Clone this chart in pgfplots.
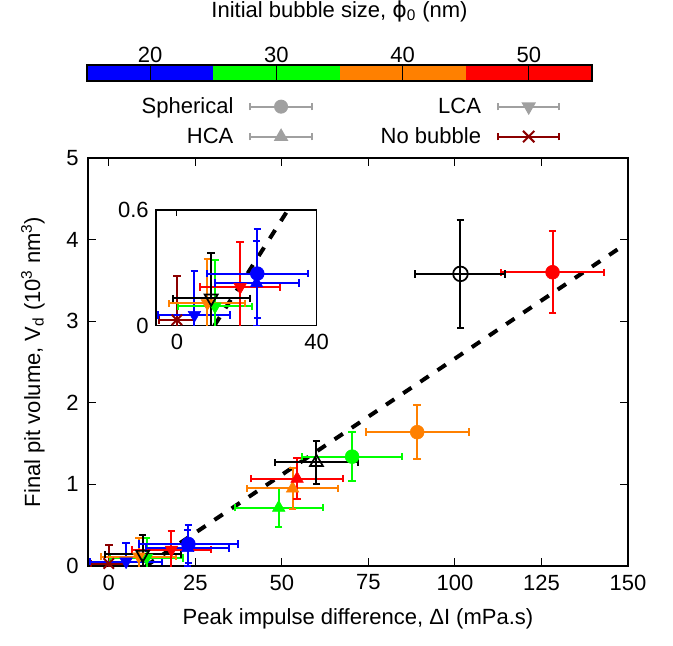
\documentclass[border=0pt]{standalone}
\usepackage{fontspec}
\setmainfont{Liberation Sans}
\newfontfamily\dejavu{DejaVu Sans}
\usepackage{pgfplots}
\pgfplotsset{compat=1.18}

\definecolor{cblue}{RGB}{0,0,255}
\definecolor{cgreen}{RGB}{0,255,0}
\definecolor{corange}{RGB}{255,128,0}
\definecolor{cred}{RGB}{255,0,0}
\definecolor{cdred}{RGB}{139,0,0}
\definecolor{lgray}{RGB}{160,160,160}

\newcommand\fs{\fontsize{16.5}{19.8}\selectfont}

\pgfplotsset{
  sph/.style={mark=*, mark size=5.2pt},
  osph/.style={mark=o, mark size=5.5pt, mark options={line width=1.3pt}},
  hca/.style={mark=triangle*, mark size=5.4pt},
  ohca/.style={mark=triangle, mark size=5.6pt, mark options={line width=1.3pt}},
  lca/.style={mark=triangle*, mark size=5.4pt, mark options={rotate=180}},
  olca/.style={mark=triangle, mark size=5.6pt, mark options={rotate=180, line width=1.3pt}},
  nob/.style={mark=x, mark size=5.5pt, mark options={line width=1.5pt}},
}

% one data point with x and y error bars: color, marker style, x, y, ex, ey
\newcommand\pt[6]{%
  \addplot[forget plot, only marks, color=#1, #2,
    error bars/.cd, x dir=both, x explicit, y dir=both, y explicit,
    error bar style={line width=1.5pt, #1},
    error mark options={rotate=90, line width=1.5pt, mark size=2.8pt, #1}]
    coordinates {(#3,#4) +- (#5,#6)};}

\newcommand\alldata{%
  % fitted trend line
  \addplot[forget plot, black, line width=3pt, dash pattern=on 7.5pt off 8pt]
    coordinates {(10.7,0) (147,3.88)};
  % No bubble
  \pt{cdred}{nob}{0}{0.03}{5}{0.23}
  % LCA
  \pt{cblue}{lca}{5.0}{0.055}{10.3}{0.23}
  \pt{cgreen}{lca}{10.9}{0.10}{10.5}{0.24}
  \pt{corange}{lca}{8.7}{0.116}{10.85}{0.23}
  \pt{cred}{lca}{18.1}{0.20}{11.4}{0.235}
  \pt{black}{olca}{9.8}{0.142}{11}{0.237}
  % HCA
  \pt{cblue}{hca}{22.8}{0.22}{12}{0.22}
  \pt{cgreen}{hca}{49.1}{0.715}{12.7}{0.24}
  \pt{corange}{hca}{53.1}{0.95}{13.1}{0.25}
  \pt{cred}{hca}{54.4}{1.07}{13.4}{0.25}
  \pt{black}{ohca}{60.0}{1.27}{12}{0.265}
  % Spherical
  \pt{cblue}{sph}{23.0}{0.27}{14.4}{0.23}
  \pt{cgreen}{sph}{70.3}{1.34}{14.5}{0.30}
  \pt{corange}{sph}{89.1}{1.64}{14.9}{0.33}
  \pt{cred}{sph}{128.2}{3.60}{15}{0.50}
  \pt{black}{osph}{101.6}{3.58}{13}{0.66}
}

\newcommand\legimg[2]{%
  \addlegendimage{legend image code/.code={
    \draw[#1, line width=1.5pt] (0pt,0pt) -- (46pt,0pt);
    \draw[#1, line width=1.5pt] (0pt,-2.8pt) -- (0pt,2.8pt);
    \draw[#1, line width=1.5pt] (46pt,-2.8pt) -- (46pt,2.8pt);
    \path[draw=#1, fill=#1, line width=1.5pt] plot[#2] coordinates {(23pt,0pt)};
  }}}

\begin{document}
\begin{tikzpicture}
\path[use as bounding box] (0,0) rectangle (504.75pt,483.75pt);

% ---------------- main axis ----------------
\begin{axis}[
  at={(66pt,59.25pt)}, anchor=south west,
  scale only axis, width=405pt, height=306pt,
  xmin=-6, xmax=150, ymin=0, ymax=5,
  xtick={0,25,...,150}, ytick={0,1,...,5},
  tick align=inside, major tick length=6pt,
  tick style={line width=0.8pt, black},
  axis line style={line width=1pt},
  /pgf/number format/assume math mode=true,
  ticklabel style={font=\fs},
  xticklabel style={yshift=-3pt},
  yticklabel style={xshift=-3.5pt},
  xlabel={Peak impulse difference, ΔI (mPa.s)},
  ylabel={Final pit volume, V\textsubscript{d} (10\textsuperscript{3} nm\textsuperscript{3})},
  every axis x label/.style={at={(axis description cs:0.5,-0.13)}, anchor=center, font=\fs},
  every axis y label/.style={at={(axis description cs:-0.102,0.5)}, anchor=center, rotate=90, font=\fs},
  legend columns=2,
  legend plot pos=right,
  legend cell align=right,
  legend style={draw=none, fill=none, font=\fs, inner sep=0pt,
    at={(axis description cs:0.094,1.155)}, anchor=north west,
    row sep=5pt,
    /tikz/every odd column/.append style={column sep=10pt},
    /tikz/every even column/.append style={column sep=49pt}},
]
\alldata
\legimg{lgray}{mark=*, mark size=4.5pt}
\addlegendentry{Spherical}
\legimg{lgray}{mark=triangle*, mark size=4.8pt, mark options={rotate=180}}
\addlegendentry{LCA}
\legimg{lgray}{mark=triangle*, mark size=4.8pt}
\addlegendentry{HCA}
\legimg{cdred}{mark=x, mark size=6pt}
\addlegendentry{No bubble}
\end{axis}

% ---------------- inset ----------------
\begin{axis}[
  at={(117pt,239.5pt)}, anchor=south west,
  scale only axis, width=120.5pt, height=86.8pt,
  xmin=-6, xmax=40, ymin=0, ymax=0.6,
  xtick={0,40}, ytick={0,0.6},
  tick align=inside, major tick length=4.5pt,
  tick style={line width=0.8pt, black},
  axis line style={line width=1pt},
  axis background/.style={fill=white},
  /pgf/number format/assume math mode=true,
  ticklabel style={font=\fs},
  xticklabel style={yshift=-3pt},
  yticklabel style={xshift=-2pt},
]
\alldata
\end{axis}

% ---------------- colour bar ----------------
\begin{axis}[
  at={(65.25pt,423pt)}, anchor=south west,
  scale only axis, width=378.75pt, height=12pt,
  xmin=15, xmax=55, ymin=0, ymax=1,
  xtick={20,30,40,50}, ytick=\empty,
  xticklabel pos=upper,
  tick align=inside, major tick length=12pt,
  tick style={line width=0.8pt, black},
  axis line style={line width=1pt},
  axis on top,
  /pgf/number format/assume math mode=true,
  ticklabel style={font=\fs},
  xticklabel style={yshift=-1.5pt},
  title={Initial bubble size, {\dejavu ϕ}\textsubscript{0} (nm)},
  title style={font=\fs, at={(axis description cs:0.5,3.875)}, anchor=center},
]
\addplot[fill=cblue, draw=none] coordinates {(15,1) (25,1)} \closedcycle;
\addplot[fill=cgreen, draw=none] coordinates {(25,1) (35,1)} \closedcycle;
\addplot[fill=corange, draw=none] coordinates {(35,1) (45,1)} \closedcycle;
\addplot[fill=cred, draw=none] coordinates {(45,1) (55,1)} \closedcycle;
\end{axis}
\end{tikzpicture}
\end{document}
